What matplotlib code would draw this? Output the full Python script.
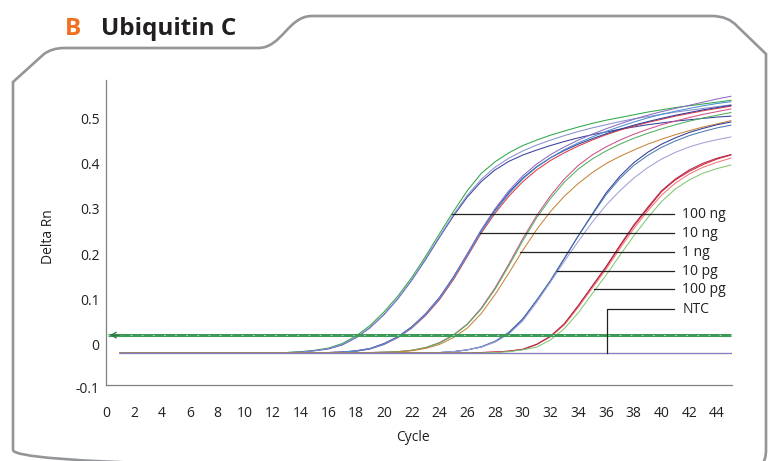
import matplotlib
matplotlib.use("Agg")
import matplotlib.pyplot as plt
import numpy as np
from matplotlib.path import Path
from matplotlib.patches import PathPatch

plt.rcParams['font.family'] = ['Open Sans', 'DejaVu Sans']

# --- data ---
cycles = np.arange(1, 46)
baseline = -0.019
threshold = 0.0206

# each curve: values from its first listed cycle up to cycle 45 (flat baseline before)
curves = {
    '100 ng': [
        ('#2fa84a', [-0.019, -0.018, -0.016, -0.013, -0.008, 0.002, 0.019, 0.042, 0.072, 0.107, 0.148, 0.195,
                     0.245, 0.294, 0.340, 0.378, 0.404, 0.424, 0.440, 0.452, 0.463, 0.472, 0.481, 0.489,
                     0.496, 0.502, 0.508, 0.514, 0.519, 0.524, 0.528, 0.532, 0.536, 0.540]),
        ('#3a3f9a', [-0.019, -0.018, -0.017, -0.014, -0.010, -0.001, 0.015, 0.037, 0.066, 0.101, 0.142, 0.188,
                     0.237, 0.284, 0.326, 0.360, 0.386, 0.405, 0.419, 0.430, 0.440, 0.449, 0.457, 0.464,
                     0.470, 0.476, 0.481, 0.486, 0.490, 0.494, 0.497, 0.500, 0.503, 0.505]),
        ('#8a8fd0', [-0.019, -0.018, -0.017, -0.014, -0.009, 0.000, 0.016, 0.038, 0.067, 0.102, 0.143, 0.190,
                     0.239, 0.287, 0.330, 0.365, 0.392, 0.412, 0.428, 0.441, 0.452, 0.462, 0.471, 0.479,
                     0.486, 0.493, 0.499, 0.504, 0.509, 0.514, 0.518, 0.522, 0.526, 0.530]),
    ],
    '10 ng': [
        ('#e03a40', [-0.019, -0.018, -0.017, -0.015, -0.010, 0.000, 0.015, 0.036, 0.064, 0.099, 0.143, 0.194,
                     0.246, 0.290, 0.328, 0.360, 0.386, 0.407, 0.424, 0.439, 0.452, 0.464, 0.474, 0.483,
                     0.491, 0.498, 0.505, 0.511, 0.517, 0.522, 0.527]),
        ('#2e3c9c', [-0.019, -0.018, -0.017, -0.014, -0.009, 0.002, 0.017, 0.039, 0.068, 0.104, 0.149, 0.200,
                     0.252, 0.297, 0.336, 0.368, 0.393, 0.413, 0.429, 0.443, 0.455, 0.466, 0.476, 0.485,
                     0.493, 0.500, 0.507, 0.513, 0.519, 0.524, 0.529]),
        ('#8a6cc0', [-0.019, -0.018, -0.017, -0.014, -0.009, 0.001, 0.017, 0.038, 0.067, 0.103, 0.148, 0.200,
                     0.253, 0.300, 0.340, 0.373, 0.399, 0.420, 0.437, 0.452, 0.465, 0.477, 0.488, 0.498,
                     0.507, 0.515, 0.522, 0.529, 0.536, 0.543, 0.549]),
        ('#4a90d0', [-0.019, -0.018, -0.017, -0.015, -0.010, 0.000, 0.016, 0.037, 0.066, 0.101, 0.146, 0.197,
                     0.249, 0.294, 0.333, 0.366, 0.392, 0.413, 0.431, 0.446, 0.459, 0.471, 0.482, 0.492,
                     0.501, 0.509, 0.516, 0.522, 0.528, 0.533, 0.537]),
    ],
    '1 ng': [
        ('#d0508a', [-0.019, -0.018, -0.017, -0.016, -0.013, -0.007, 0.004, 0.021, 0.045, 0.080, 0.125, 0.178,
                     0.234, 0.285, 0.329, 0.366, 0.396, 0.419, 0.437, 0.452, 0.465, 0.476, 0.486, 0.494,
                     0.502, 0.509, 0.515, 0.521]),
        ('#50b060', [-0.019, -0.018, -0.017, -0.016, -0.013, -0.007, 0.003, 0.020, 0.044, 0.078, 0.122, 0.174,
                     0.229, 0.280, 0.323, 0.359, 0.388, 0.410, 0.428, 0.443, 0.456, 0.467, 0.477, 0.486,
                     0.494, 0.501, 0.507, 0.513]),
        ('#c8843a', [-0.019, -0.019, -0.018, -0.017, -0.014, -0.009, 0.000, 0.015, 0.036, 0.068, 0.110, 0.158,
                     0.208, 0.254, 0.294, 0.328, 0.356, 0.380, 0.400, 0.416, 0.430, 0.443, 0.454, 0.464,
                     0.473, 0.481, 0.488, 0.495]),
    ],
    '10 pg': [
        ('#303c9a', [-0.019, -0.019, -0.018, -0.016, -0.012, -0.006, 0.006, 0.025, 0.055, 0.097, 0.140, 0.190,
                     0.240, 0.288, 0.335, 0.372, 0.402, 0.425, 0.443, 0.457, 0.469, 0.478, 0.486, 0.492]),
        ('#4a7ab0', [-0.019, -0.019, -0.018, -0.016, -0.012, -0.005, 0.007, 0.027, 0.057, 0.098, 0.142, 0.191,
                     0.240, 0.286, 0.331, 0.367, 0.396, 0.418, 0.436, 0.450, 0.462, 0.471, 0.479, 0.485]),
        ('#a0a0d8', [-0.019, -0.019, -0.018, -0.016, -0.012, -0.006, 0.005, 0.023, 0.052, 0.093, 0.138, 0.184,
                     0.228, 0.270, 0.308, 0.340, 0.368, 0.391, 0.410, 0.425, 0.437, 0.446, 0.453, 0.459]),
    ],
    '100 pg': [
        ('#e02030', [-0.019, -0.018, -0.017, -0.015, -0.011, 0.000, 0.018, 0.045, 0.085, 0.128, 0.170, 0.217,
                     0.262, 0.300, 0.338, 0.364, 0.383, 0.398, 0.410, 0.419]),
        ('#f07878', [-0.019, -0.018, -0.017, -0.015, -0.011, 0.000, 0.017, 0.043, 0.082, 0.124, 0.166, 0.212,
                     0.256, 0.295, 0.330, 0.357, 0.377, 0.392, 0.403, 0.412]),
        ('#b02850', [-0.019, -0.018, -0.017, -0.015, -0.011, 0.000, 0.018, 0.046, 0.086, 0.129, 0.172, 0.219,
                     0.264, 0.303, 0.340, 0.366, 0.386, 0.401, 0.412, 0.420]),
        ('#80c870', [-0.019, -0.019, -0.018, -0.016, -0.012, -0.006, 0.010, 0.035, 0.070, 0.112, 0.153, 0.197,
                     0.240, 0.280, 0.316, 0.344, 0.364, 0.379, 0.389, 0.397]),
    ],
}
ntc = [('#e04050', -0.0192), ('#50b060', -0.0188), ('#8080c8', -0.019)]

# pointer labels: text, y of pointer line, cycle where the pointer meets its curves
label_names = ['100 ng', '10 ng', '1 ng', '10 pg', '100 pg', 'NTC']
label_y = [0.288, 0.246, 0.204, 0.162, 0.122, 0.078]
label_x = [24.9, 26.9, 29.8, 32.5, 35.1, 36.1]

# --- figure ---
fig = plt.figure(figsize=(7.7, 4.61), dpi=100)

# decorative frame with tab, in pixel coordinates
bg = fig.add_axes([0, 0, 1, 1], zorder=0)
bg.set_xlim(0, 770)
bg.set_ylim(461, 0)
bg.axis('off')
verts = [(13, 450), (13, 82), (44, 54), (52, 48), (64, 48), (258, 48),
         (282, 48), (288, 16), (312, 16), (712, 16), (728, 16), (737, 26),
         (766, 54), (766, 450), (766, 470), (748, 470), (30, 470), (13, 470), (13, 450)]
codes = [Path.MOVETO, Path.LINETO, Path.LINETO, Path.CURVE3, Path.CURVE3, Path.LINETO,
         Path.CURVE4, Path.CURVE4, Path.CURVE4, Path.LINETO, Path.CURVE3, Path.CURVE3,
         Path.LINETO, Path.LINETO, Path.CURVE3, Path.CURVE3, Path.LINETO, Path.CURVE3, Path.CURVE3]
bg.add_patch(PathPatch(Path(verts, codes), facecolor='none', edgecolor='#939598', lw=1.9))
bg.text(65, 35, 'B', color='#f07020', fontsize=17.5, fontweight='bold', va='baseline')
bg.text(101, 35, 'Ubiquitin C', color='#231f20', fontsize=17.5, fontweight='bold', va='baseline')

ax = fig.add_axes([106.5 / 770, 76 / 461, 625.5 / 770, 305 / 461], zorder=1)
ax.patch.set_alpha(0)

for group, reps in curves.items():
    for color, vals in reps:
        y = [baseline] * (len(cycles) - len(vals)) + vals
        ax.plot(cycles, y, color=color, lw=0.75)

for color, level in ntc:
    ax.plot(cycles, [level] * len(cycles), color=color, lw=0.8)

# threshold line
ax.plot([0.1, 45], [threshold, threshold], color='#3d9a58', lw=2.2, solid_capstyle='butt', zorder=4)
ax.plot([0.1, 45], [threshold, threshold], color='#b5d3bd', lw=0.8, dashes=(1.5, 8.5), zorder=5)
ax.annotate('', xy=(0.05, threshold), xytext=(1.2, threshold),
            arrowprops=dict(arrowstyle='->,head_length=0.35,head_width=0.2', color='#2d7a45', lw=1.0),
            zorder=6)

# pointer lines and labels
for name, ly, lx in zip(label_names, label_y, label_x):
    if name == 'NTC':
        ax.plot([lx, lx, 40.9], [baseline, ly, ly], color='#222222', lw=0.9, zorder=7)
    else:
        ax.plot([lx, 40.9], [ly, ly], color='#222222', lw=0.9, zorder=7)
    ax.text(41.5, ly, name, fontsize=10, va='center', ha='left', color='#231f20', zorder=8)

ax.set_xlim(0, 45.08)
ax.set_ylim(-0.0898, 0.585)
ax.set_xticks(np.arange(0, 45, 2))
ax.set_yticks([0, 0.1, 0.2, 0.3, 0.4, 0.5])
ax.set_yticklabels(['0', '0.1', '0.2', '0.3', '0.4', '0.5'])
ax.tick_params(axis='both', length=0, labelsize=10, colors='#231f20')
ax.tick_params(axis='x', pad=15)
ax.tick_params(axis='y', pad=5)
ax.text(-7 / 625.5, -0.1, '-0.1', transform=ax.get_yaxis_transform(), ha='right', va='center',
        fontsize=10, color='#231f20', clip_on=False)
for side in ['top', 'right']:
    ax.spines[side].set_visible(False)
for side in ['left', 'bottom']:
    ax.spines[side].set_color('#808080')
    ax.spines[side].set_linewidth(0.9)

fig.text(48 / 770, 1 - 237 / 461, 'Delta Rn', rotation=90, ha='center', va='center',
         fontsize=10, color='#231f20')
fig.text(413 / 770, 1 - 437 / 461, 'Cycle', ha='center', va='center', fontsize=10, color='#231f20')

fig.savefig('out.png', dpi=100)
